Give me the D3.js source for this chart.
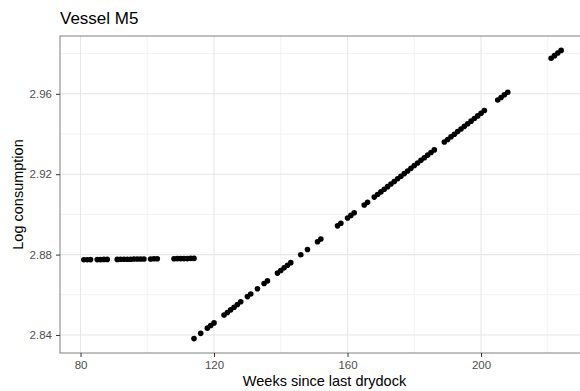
<!DOCTYPE html>
<html>
<head>
<meta charset="utf-8">
<script src="https://cdn.jsdelivr.net/npm/d3@7"></script>
<style>
  html, body { margin: 0; padding: 0; background: #fff; }
  svg { display: block; font-family: "Liberation Sans", Arial, sans-serif; }
</style>
</head>
<body>
<svg id="chart" width="580" height="391"></svg>
<script>
// Weekly observations: weeks since last drydock and log fuel consumption
const flatWeeks = [81, 82, 83, 85, 86, 87, 88, 91, 92, 93, 94, 95, 96, 97, 98, 99,
  101, 102, 103, 108, 109, 110, 111, 112, 113, 114];
const flatValues = [2.8774, 2.8774, 2.8775, 2.8775, 2.8775, 2.8776, 2.8776, 2.8776, 2.8777,
  2.8777, 2.8777, 2.8777, 2.8778, 2.8778, 2.8778, 2.8778, 2.8778, 2.8779, 2.8779,
  2.8779, 2.8780, 2.8780, 2.8780, 2.8780, 2.8781, 2.8781];

const trendWeeks = [114, 116, 118, 119, 120, 123, 124, 125, 126, 127, 128, 130, 131, 133,
  135, 136, 139, 140, 141, 142, 143, 146, 148, 151, 152, 157, 158, 160, 161, 162, 165, 166,
  168, 169, 170, 171, 172, 173, 174, 175, 176, 177, 178, 179, 180, 181, 182, 183, 184, 185, 186,
  189, 190, 191, 192, 193, 194, 195, 196, 197, 198, 199, 200, 201,
  205, 206, 207, 208, 221, 222, 223, 224];
const trendValues = [2.8382, 2.8408, 2.8434, 2.8447, 2.8460, 2.8499, 2.8512, 2.8525, 2.8538,
  2.8552, 2.8565, 2.8591, 2.8604, 2.8630, 2.8656, 2.8669, 2.8708, 2.8721, 2.8734, 2.8747,
  2.8760, 2.8799, 2.8825, 2.8864, 2.8877, 2.8943, 2.8956, 2.8982, 2.8995, 2.9008, 2.9047,
  2.9060, 2.9086, 2.9099, 2.9112, 2.9125, 2.9138, 2.9151, 2.9164, 2.9177, 2.9190, 2.9203,
  2.9216, 2.9229, 2.9243, 2.9256, 2.9269, 2.9282, 2.9295, 2.9308, 2.9321, 2.9360, 2.9373,
  2.9386, 2.9399, 2.9412, 2.9425, 2.9438, 2.9451, 2.9464, 2.9477, 2.9490, 2.9503, 2.9517,
  2.9569, 2.9582, 2.9595, 2.9608, 2.9777, 2.9790, 2.9803, 2.9816];

const xTicks = [80, 120, 160, 200];
const xMinor = [100, 140, 180, 220];
const yTicks = [2.84, 2.88, 2.92, 2.96];
const yMinor = [2.86, 2.90, 2.94, 2.98];
const yTickLabels = ["2.84", "2.88", "2.92", "2.96"];

const title = "Vessel M5";
const xTitle = "Weeks since last drydock";
const yTitle = "Log consumption";

const points = flatWeeks.map((w, i) => ({ w, v: flatValues[i] }))
  .concat(trendWeeks.map((w, i) => ({ w, v: trendValues[i] })));

const panel = { left: 60, top: 36, right: 585, bottom: 353 };

// 5% expansion on each side of the data range
function expand(ext) {
  const pad = (ext[1] - ext[0]) * 0.05;
  return [ext[0] - pad, ext[1] + pad];
}

const x = d3.scaleLinear()
  .domain(expand(d3.extent(points, d => d.w)))
  .range([panel.left, panel.right]);
const y = d3.scaleLinear()
  .domain(expand(d3.extent(points, d => d.v)))
  .range([panel.bottom, panel.top]);

const svg = d3.select("#chart");

// panel background
svg.append("rect")
  .attr("x", panel.left).attr("y", panel.top)
  .attr("width", panel.right - panel.left).attr("height", panel.bottom - panel.top)
  .attr("fill", "#fff");

const grid = svg.append("g");
// minor grid
grid.selectAll(".xminor").data(xMinor).join("line")
  .attr("x1", d => x(d)).attr("x2", d => x(d))
  .attr("y1", panel.top).attr("y2", panel.bottom)
  .attr("stroke", "#f2f2f2").attr("stroke-width", 1);
grid.selectAll(".yminor").data(yMinor).join("line")
  .attr("y1", d => y(d)).attr("y2", d => y(d))
  .attr("x1", panel.left).attr("x2", panel.right)
  .attr("stroke", "#f2f2f2").attr("stroke-width", 1);
// major grid
grid.selectAll(".xmajor").data(xTicks).join("line")
  .attr("x1", d => x(d)).attr("x2", d => x(d))
  .attr("y1", panel.top).attr("y2", panel.bottom)
  .attr("stroke", "#e6e6e6").attr("stroke-width", 1.1);
grid.selectAll(".ymajor").data(yTicks).join("line")
  .attr("y1", d => y(d)).attr("y2", d => y(d))
  .attr("x1", panel.left).attr("x2", panel.right)
  .attr("stroke", "#e6e6e6").attr("stroke-width", 1.1);

// points
svg.append("g").selectAll("circle").data(points).join("circle")
  .attr("cx", d => x(d.w)).attr("cy", d => y(d.v))
  .attr("r", 2.8).attr("fill", "#000");

// panel border
svg.append("rect")
  .attr("x", panel.left).attr("y", panel.top)
  .attr("width", panel.right - panel.left).attr("height", panel.bottom - panel.top)
  .attr("fill", "none").attr("stroke", "#808080").attr("stroke-width", 1);

// axes
const xAxis = svg.append("g")
  .attr("transform", `translate(0,${panel.bottom})`)
  .call(d3.axisBottom(x).tickValues(xTicks).tickSize(4).tickPadding(4).tickFormat(d3.format("d")));
const yAxis = svg.append("g")
  .attr("transform", `translate(${panel.left},0)`)
  .call(d3.axisLeft(y).tickValues(yTicks).tickSize(4).tickPadding(4)
    .tickFormat((d, i) => yTickLabels[i]));

[xAxis, yAxis].forEach(g => {
  g.select(".domain").remove();
  g.selectAll(".tick line").attr("stroke", "#333");
  g.selectAll(".tick text").attr("fill", "#4d4d4d").style("font-size", "11.5px")
    .style("font-family", "'Liberation Sans', Arial, sans-serif");
});

// titles
svg.append("text")
  .attr("x", panel.left).attr("y", 24)
  .attr("fill", "#000").style("font-size", "17px")
  .text(title);

svg.append("text")
  .attr("x", (panel.left + 580 + 5) / 2 + 2).attr("y", 386)
  .attr("text-anchor", "middle").attr("fill", "#000").style("font-size", "14.5px")
  .text(xTitle);

svg.append("text")
  .attr("transform", `translate(23,${(panel.top + panel.bottom) / 2}) rotate(-90)`)
  .attr("text-anchor", "middle").attr("fill", "#000").style("font-size", "14.5px")
  .text(yTitle);
</script>
</body>
</html>
